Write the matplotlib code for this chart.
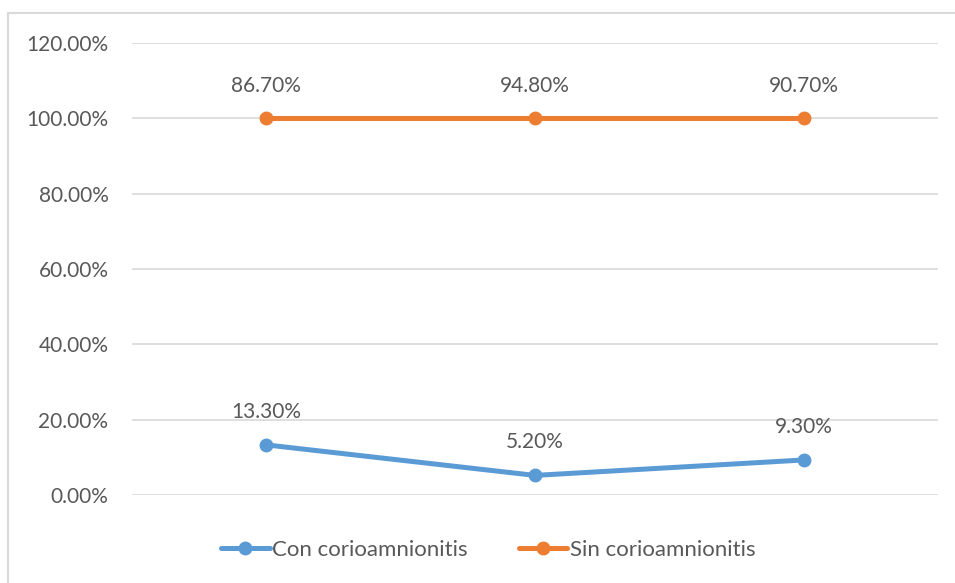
import matplotlib.pyplot as plt
from matplotlib.lines import Line2D

categories = ['A', 'B', 'C']
con = [13.3, 5.2, 9.3]
sin = [86.7, 94.8, 90.7]
# Excel stacked line: second series drawn on top of the first
sin_stacked = [c + s for c, s in zip(con, sin)]

blue = '#5b9bd5'
orange = '#ed7d31'
text_col = '#595959'

plt.rcParams['font.family'] = ['Lato', 'DejaVu Sans']

fig = plt.figure(figsize=(9.55, 5.83), dpi=100)
ax = fig.add_axes([132/955, 1 - 495/583, (938 - 132)/955, (495 - 43)/583])

x = range(len(categories))
ax.plot(x, con, color=blue, lw=3.6, marker='o', ms=9, label='Con corioamnionitis',
        solid_capstyle='round', zorder=3)
ax.plot(x, sin_stacked, color=orange, lw=3.6, marker='o', ms=9, label='Sin corioamnionitis',
        solid_capstyle='round', zorder=3)

fs = 15
for i, v in enumerate(con):
    ax.annotate(f'{v:.2f}%', (i, v), xytext=(0, 24), textcoords='offset points',
                ha='center', va='center', fontsize=fs, color=text_col)
for i, v in enumerate(sin):
    ax.annotate(f'{v:.2f}%', (i, sin_stacked[i]), xytext=(0, 23), textcoords='offset points',
                ha='center', va='center', fontsize=fs, color=text_col)

ax.set_xlim(-0.5, 2.5)
ax.set_ylim(0, 120)
ax.set_yticks(range(0, 121, 20))
ax.set_yticklabels([f'{t:.2f}%' for t in range(0, 121, 20)])
ax.set_xticks([])
ax.tick_params(axis='y', length=0, pad=17, labelsize=fs, labelcolor=text_col)
ax.grid(axis='y', color='#d9d9d9', lw=1.2)
ax.set_axisbelow(True)
for s in ax.spines.values():
    s.set_visible(False)

ax.legend(loc='center', bbox_to_anchor=(488/955, 1 - 550/583), bbox_transform=fig.transFigure,
          ncol=2, frameon=False, fontsize=16, labelcolor=text_col, handlelength=2.2,
          handletextpad=0.1, columnspacing=2.3)

# chart area border (left and top edges visible)
fig.add_artist(Line2D([8/955, 8/955], [0, 1 - 13/583], transform=fig.transFigure,
                      color='#d9d9d9', lw=1.5))
fig.add_artist(Line2D([8/955, 1], [1 - 13/583, 1 - 13/583], transform=fig.transFigure,
                      color='#d9d9d9', lw=1.5))

fig.savefig('out.png', dpi=100)
